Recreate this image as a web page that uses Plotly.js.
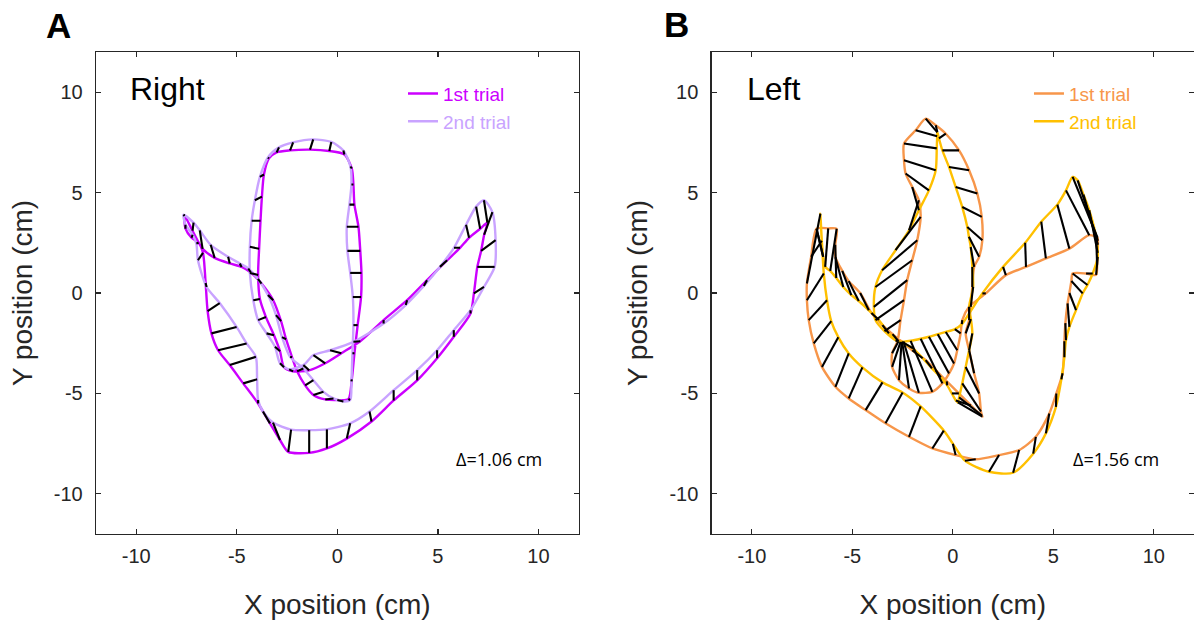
<!DOCTYPE html>
<html>
<head>
<meta charset="utf-8">
<script src="https://cdn.plot.ly/plotly-3.0.1.min.js"></script>
<style>
html,body{margin:0;padding:0;background:#ffffff;}
#chart{width:1194px;height:622px;}
</style>
</head>
<body>
<div id="chart"></div>
<script>
// ---------- Panel A : Right hand (cm) ----------
const rightTrial1X = [-7.60,-7.20,-6.70,-6.10,-5.35,-4.76,-4.30,-3.77,-3.19,-2.80,-2.55,-2.25,-2.00,-1.60,-1.19,-0.60,0.00,0.55,0.72,0.85,1.01,1.18,1.20,1.14,1.05,0.85,0.80,0.72,0.35,-0.40,-1.36,-2.35,-3.02,-3.40,-3.65,-3.75,-3.82,-3.89,-3.94,-3.85,-3.55,-3.15,-2.85,-2.65,-2.20,-1.40,-0.60,0.20,1.14,2.30,3.47,4.46,5.46,6.10,6.55,7.10,7.46,7.30,7.15,6.96,6.79,6.62,5.79,4.96,3.97,2.80,1.70,0.47,-0.52,-1.40,-2.44,-2.85,-3.35,-3.94,-4.68,-5.35,-5.93,-6.26,-6.45,-6.55,-6.68,-6.90,-7.25,-7.55,-7.60];
const rightTrial1Y = [3.85,3.10,2.20,1.75,1.47,1.30,1.02,0.47,-0.36,-1.40,-2.30,-3.20,-3.90,-4.60,-5.08,-5.30,-5.33,-5.28,-4.30,-3.00,-1.60,-0.20,1.00,2.10,3.30,4.40,5.40,6.20,6.90,7.07,7.14,7.10,7.00,6.70,5.90,4.80,3.60,2.20,0.90,-0.30,-1.20,-2.10,-2.90,-3.70,-3.90,-3.85,-3.50,-3.00,-2.40,-1.35,-0.36,0.64,1.63,2.25,2.75,3.20,3.50,2.90,2.10,1.30,-0.02,-1.02,-2.18,-3.25,-4.35,-5.35,-6.40,-7.25,-7.74,-7.96,-7.91,-7.32,-6.49,-5.50,-4.50,-3.59,-2.85,-2.01,-0.90,0.50,2.00,2.50,2.75,3.20,3.85];
const rightTrial2X = [-7.65,-7.15,-6.84,-6.30,-5.43,-4.85,-4.43,-3.95,-3.45,-3.05,-2.75,-2.35,-1.69,-1.19,-0.69,-0.19,0.30,0.64,0.70,0.75,0.80,0.77,0.64,0.50,0.47,0.60,0.70,0.65,0.30,-0.30,-1.20,-2.20,-2.90,-3.45,-3.85,-4.10,-4.26,-4.35,-4.35,-4.18,-3.94,-3.52,-3.10,-2.85,-2.40,-1.69,-1.19,-0.36,0.80,2.30,3.40,4.30,5.10,5.80,6.40,6.90,7.29,7.71,7.87,7.82,7.29,6.62,5.79,4.96,3.97,2.80,1.60,0.64,-0.52,-1.40,-2.30,-3.20,-3.70,-3.94,-3.99,-4.05,-4.51,-5.01,-5.85,-6.50,-6.93,-7.01,-7.20,-7.55,-7.65];
const rightTrial2Y = [3.90,3.50,3.12,2.40,1.80,1.47,1.22,0.70,-0.10,-1.10,-2.20,-3.18,-3.76,-4.34,-4.92,-5.25,-5.40,-5.33,-4.40,-3.00,-1.60,-0.20,1.00,2.10,3.30,4.40,5.40,6.30,7.10,7.52,7.65,7.50,7.25,6.75,5.78,4.62,3.60,2.30,1.00,-0.36,-1.35,-2.01,-2.68,-3.50,-3.80,-3.59,-3.09,-2.85,-2.43,-1.52,-0.60,0.35,1.30,2.25,3.40,4.30,4.62,4.03,2.63,1.30,0.30,-0.86,-1.85,-2.85,-3.84,-4.84,-5.90,-6.49,-6.79,-6.83,-6.80,-6.45,-5.90,-5.33,-4.30,-3.18,-2.51,-1.69,-0.50,0.30,1.63,2.46,2.90,3.40,3.90];

// ---------- Panel B : Left hand (cm) ----------
const leftTrial1X = [-6.78,-6.20,-5.78,-5.85,-5.84,-5.50,-5.18,-4.61,-4.05,-3.50,-3.00,-2.52,-2.02,-1.35,-0.85,-0.30,0.30,0.90,1.47,1.45,1.40,1.31,1.06,0.81,0.64,0.81,0.89,0.97,1.06,1.31,1.47,1.44,1.22,0.81,0.31,-0.35,-0.85,-1.35,-1.85,-2.43,-2.43,-2.35,-2.02,-1.69,-1.60,-1.77,-2.02,-2.27,-2.43,-2.60,-2.75,-3.02,-3.02,-2.68,-2.18,-1.69,-1.02,-0.52,-0.19,0.06,0.22,0.39,0.47,0.81,1.64,2.64,3.64,4.63,5.80,6.79,7.20,7.22,7.22,7.21,7.18,7.13,6.63,5.96,5.90,5.80,5.71,5.60,5.55,5.46,5.15,4.80,4.13,3.30,2.30,1.14,0.14,-1.02,-2.18,-3.35,-4.34,-5.18,-5.84,-6.51,-6.92,-7.17,-7.26,-7.26,-7.05,-6.78];
const leftTrial1Y = [3.20,3.22,3.20,2.40,1.78,1.10,0.59,0.00,-0.99,-1.60,-2.05,-2.43,-2.85,-3.34,-3.84,-4.40,-5.00,-5.60,-6.16,-6.10,-5.90,-5.00,-4.00,-2.85,-2.01,-1.35,-0.69,0.30,1.30,1.80,2.63,3.79,4.95,6.11,7.10,7.93,8.35,8.68,8.10,7.44,6.61,5.95,5.28,4.62,3.79,2.63,1.63,0.64,-0.36,-1.35,-2.40,-3.00,-3.68,-4.34,-4.75,-4.97,-4.92,-4.50,-4.01,-3.51,-2.85,-2.01,-1.35,-0.69,-0.02,0.89,1.30,1.72,2.21,2.88,2.75,2.60,2.40,2.00,1.40,0.90,0.97,0.97,0.60,0.00,-0.52,-1.50,-2.40,-4.00,-5.00,-6.00,-7.16,-7.82,-8.07,-8.28,-8.07,-7.74,-7.16,-6.49,-5.83,-5.25,-4.67,-3.68,-2.51,-1.35,-0.36,0.47,1.80,3.20];
const leftTrial2X = [-6.45,-6.35,-6.10,-5.80,-5.45,-5.05,-4.68,-4.18,-3.68,-3.18,-2.70,-1.98,-1.50,-1.04,-0.60,-0.28,-0.05,0.15,0.25,0.31,0.47,0.64,0.81,0.97,0.90,0.81,1.01,0.97,0.89,0.80,0.72,0.47,0.14,-0.19,-0.52,-0.69,-0.77,-0.77,-0.78,-0.80,-0.85,-1.19,-1.69,-2.18,-2.85,-3.52,-3.85,-3.93,-3.85,-3.40,-2.85,-2.70,-2.60,-2.55,-2.52,-2.45,-2.10,-1.60,-1.19,-0.75,-0.35,0.10,0.45,0.81,1.47,2.50,3.60,4.40,5.20,5.63,5.96,6.21,6.50,6.79,7.13,7.21,6.96,6.70,6.46,6.13,5.80,5.63,5.55,5.40,5.13,4.63,4.00,3.00,1.80,0.60,0.00,-0.45,-1.60,-2.50,-3.50,-4.50,-5.18,-5.70,-6.05,-6.26,-6.42,-6.59,-6.52,-6.45];
const leftTrial2Y = [1.80,1.30,1.10,0.75,0.30,-0.10,-0.40,-0.86,-1.35,-2.01,-2.40,-2.76,-3.25,-3.75,-4.20,-4.60,-5.00,-5.35,-5.45,-5.20,-4.50,-3.68,-2.85,-2.01,-1.30,-0.69,0.30,1.30,2.29,2.80,3.29,4.28,5.28,6.27,7.10,7.70,8.02,8.00,7.80,7.20,6.11,5.11,4.12,3.12,2.13,1.13,0.30,-0.69,-1.35,-1.90,-2.35,-2.40,-2.43,-2.43,-2.43,-2.42,-2.38,-2.28,-2.18,-2.05,-1.94,-1.80,-1.55,-1.02,-0.02,1.30,2.50,3.55,4.40,5.11,5.78,5.61,4.90,4.12,2.79,1.80,0.97,0.40,-0.02,-0.85,-1.69,-2.35,-3.20,-4.30,-5.67,-6.99,-8.00,-8.95,-8.90,-8.35,-7.50,-6.85,-5.65,-4.95,-4.45,-3.70,-3.01,-2.20,-1.40,-0.36,0.97,3.95,2.60,1.80];

// ---------- Labels ----------
const tickVals = [-10, -5, 0, 5, 10];
const tickText = ['-10', '-5', '0', '5', '10'];
const trialNames = ['1st trial', '2nd trial'];
const panelLabels = ['A', 'B'];
const handLabels = ['Right', 'Left'];
const deltaLabels = ['\u0394=1.06 cm', '\u0394=1.56 cm'];
const colorsRight = ['#CC00FF', '#C9A3FF'];
const colorsLeft = ['#F7964A', '#FFC000'];

const axisColor = '#262626';
const FONT = 'Liberation Sans, Arial, sans-serif';

function trialTrace(x, y, color, name, xa, ya, legend) {
  return {
    x: x, y: y, xaxis: xa, yaxis: ya, type: 'scatter', mode: 'lines',
    line: {color: color, width: 2.4, shape: 'spline', smoothing: 0.7},
    name: '<span style="color:' + color + '">' + name + '</span>',
    legend: legend, hoverinfo: 'skip'
  };
}
function connectorTrace(x1, y1, x2, y2, xa, ya) {
  const xs = [], ys = [];
  for (let i = 0; i < x1.length; i++) {
    xs.push(x1[i], x2[i], null);
    ys.push(y1[i], y2[i], null);
  }
  return {
    x: xs, y: ys, xaxis: xa, yaxis: ya, type: 'scatter', mode: 'lines',
    line: {color: '#000000', width: 2.1}, showlegend: false, hoverinfo: 'skip'
  };
}

const data = [
  trialTrace(rightTrial1X, rightTrial1Y, colorsRight[0], trialNames[0], 'x', 'y', 'legend'),
  trialTrace(rightTrial2X, rightTrial2Y, colorsRight[1], trialNames[1], 'x', 'y', 'legend'),
  connectorTrace(rightTrial1X, rightTrial1Y, rightTrial2X, rightTrial2Y, 'x', 'y'),
  trialTrace(leftTrial1X, leftTrial1Y, colorsLeft[0], trialNames[0], 'x2', 'y2', 'legend2'),
  trialTrace(leftTrial2X, leftTrial2Y, colorsLeft[1], trialNames[1], 'x2', 'y2', 'legend2'),
  connectorTrace(leftTrial1X, leftTrial1Y, leftTrial2X, leftTrial2Y, 'x2', 'y2')
];

function axisBase(titleText, standoff, labelStandoff) {
  return {
    range: [-12, 12], tickvals: tickVals, ticktext: tickText,
    ticks: 'inside', ticklen: 5, tickwidth: 1.2, tickcolor: axisColor,
    showline: true, linecolor: axisColor, linewidth: 1.3, mirror: 'ticks',
    showgrid: false, zeroline: false, fixedrange: true,
    ticklabelstandoff: labelStandoff,
    tickfont: {family: FONT, size: 20, color: axisColor},
    title: {text: titleText, font: {family: FONT, size: 28, color: axisColor}, standoff: standoff}
  };
}

const legendBase = {
  bgcolor: 'rgba(0,0,0,0)', borderwidth: 0,
  font: {family: FONT, size: 19}, itemwidth: 30,
  xanchor: 'left', yanchor: 'top', tracegroupgap: 0
};

const layout = {
  width: 1194, height: 622,
  margin: {l: 96, r: 0, t: 52, b: 88, pad: 0},
  paper_bgcolor: '#ffffff', plot_bgcolor: '#ffffff',
  showlegend: true,
  xaxis: Object.assign(axisBase('X position (cm)', 28, 4), {domain: [0, 0.4396], anchor: 'y'}),
  yaxis: Object.assign(axisBase('Y position (cm)', 13, 8), {domain: [0, 1], anchor: 'x'}),
  xaxis2: Object.assign(axisBase('X position (cm)', 28, 4), {domain: [0.5607, 1], anchor: 'y2'}),
  yaxis2: Object.assign(axisBase('Y position (cm)', 13, 8), {domain: [0, 1], anchor: 'x2'}),
  legend: Object.assign({}, legendBase, {x: 0.2796, y: 0.953}),
  legend2: Object.assign({}, legendBase, {x: 0.8497, y: 0.953}),
  annotations: [
    {xref: 'paper', yref: 'paper', x: -0.0337, y: 1.055, text: '<b>' + panelLabels[0] + '</b>', showarrow: false,
     font: {family: FONT, size: 35, color: '#000000'}, xanchor: 'center', yanchor: 'middle'},
    {xref: 'paper', yref: 'paper', x: 0.5288, y: 1.057, text: '<b>' + panelLabels[1] + '</b>', showarrow: false,
     font: {family: FONT, size: 35, color: '#000000'}, xanchor: 'center', yanchor: 'middle'},
    {xref: 'x', yref: 'y', x: -10.42, y: 10.14, text: handLabels[0], showarrow: false,
     font: {family: FONT, size: 32, color: '#000000'}, xanchor: 'left', yanchor: 'middle'},
    {xref: 'x2', yref: 'y2', x: -10.33, y: 10.14, text: handLabels[1], showarrow: false,
     font: {family: FONT, size: 32, color: '#000000'}, xanchor: 'left', yanchor: 'middle'},
    {xref: 'x', yref: 'y', x: 8.06, y: -8.27, text: deltaLabels[0], showarrow: false,
     font: {family: 'Open Sans, sans-serif', size: 18, color: '#000000'}, xanchor: 'center', yanchor: 'middle'},
    {xref: 'x2', yref: 'y2', x: 8.12, y: -8.27, text: deltaLabels[1], showarrow: false,
     font: {family: 'Open Sans, sans-serif', size: 18, color: '#000000'}, xanchor: 'center', yanchor: 'middle'}
  ]
};

Plotly.newPlot('chart', data, layout, {displayModeBar: false, staticPlot: true});
</script>
</body>
</html>
